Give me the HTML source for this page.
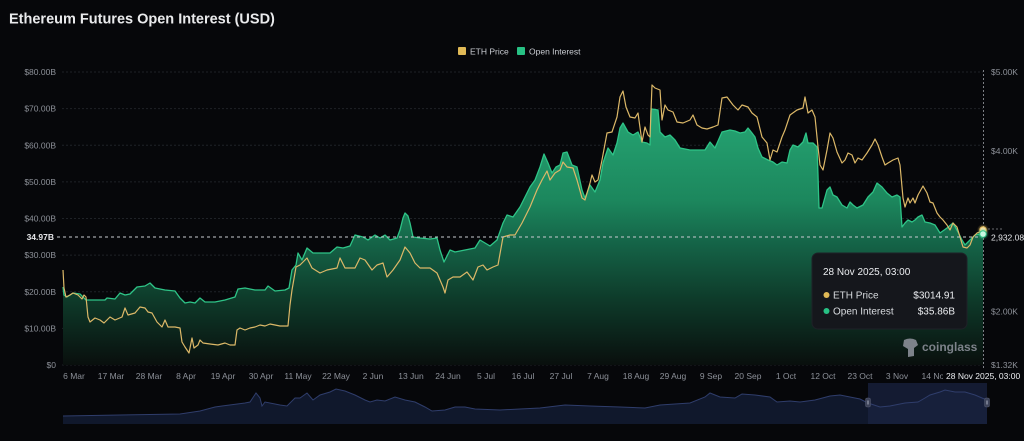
<!DOCTYPE html>
<html><head><meta charset="utf-8"><style>
html,body{margin:0;padding:0;background:#06070a;}
body{width:1024px;height:441px;overflow:hidden;font-family:"Liberation Sans",sans-serif;}
svg{display:block}
</style></head><body>
<svg width="1024" height="441" viewBox="0 0 1024 441" xmlns="http://www.w3.org/2000/svg" font-family="Liberation Sans, sans-serif">
<defs>
<linearGradient id="g" gradientUnits="userSpaceOnUse" x1="0" y1="100" x2="0" y2="365">
<stop offset="0" stop-color="#27a976"/>
<stop offset="0.38" stop-color="#1c875d"/>
<stop offset="0.53" stop-color="#156649"/>
<stop offset="0.75" stop-color="#0e3b2a"/>
<stop offset="1" stop-color="#090f0d"/>
</linearGradient>
<radialGradient id="gy"><stop offset="0" stop-color="#ffe3a0" stop-opacity="0.9"/><stop offset="1" stop-color="#e0b956" stop-opacity="0"/></radialGradient>
<radialGradient id="gg"><stop offset="0" stop-color="#9ff5cf" stop-opacity="0.9"/><stop offset="1" stop-color="#27c184" stop-opacity="0"/></radialGradient>
</defs>
<rect width="1024" height="441" fill="#06070a"/>
<text x="9" y="23.5" font-size="14.5" font-weight="bold" fill="#e9eaec">Ethereum Futures Open Interest (USD)</text>
<!-- legend -->
<rect x="458" y="47" width="8" height="8" rx="1" fill="#e0b956"/>
<text x="470" y="54.5" font-size="8.5" fill="#c9ccd2">ETH Price</text>
<rect x="517" y="47" width="8" height="8" rx="1" fill="#27c184"/>
<text x="529" y="54.5" font-size="8.5" fill="#c9ccd2">Open Interest</text>
<!-- grid -->
<g stroke="#1f2227" stroke-width="1" stroke-dasharray="2,2">
<line x1="62" y1="72" x2="983" y2="72"/>
<line x1="62" y1="108.6" x2="983" y2="108.6"/>
<line x1="62" y1="145.3" x2="983" y2="145.3"/>
<line x1="62" y1="181.9" x2="983" y2="181.9"/>
<line x1="62" y1="218.5" x2="983" y2="218.5"/>
<line x1="62" y1="255.1" x2="983" y2="255.1"/>
<line x1="62" y1="291.8" x2="983" y2="291.8"/>
<line x1="62" y1="328.4" x2="983" y2="328.4"/>
<line x1="62" y1="365" x2="983" y2="365"/>
</g>
<g font-size="8.5" fill="#8d9199" text-anchor="end">
<text x="56" y="75">$80.00B</text>
<text x="56" y="111.6">$70.00B</text>
<text x="56" y="148.3">$60.00B</text>
<text x="56" y="184.9">$50.00B</text>
<text x="56" y="221.5">$40.00B</text>
<text x="56" y="258.1">$30.00B</text>
<text x="56" y="294.8">$20.00B</text>
<text x="56" y="331.4">$10.00B</text>
<text x="56" y="368">$0</text>
</g>
<g font-size="8.5" fill="#8d9199">
<text x="991" y="75">$5.00K</text>
<text x="991" y="154">$4.00K</text>
<text x="991" y="314.5">$2.00K</text>
<text x="991" y="368">$1.32K</text>
</g>
<!-- OI area -->
<path fill="url(#g)" stroke="none" d="M63,287 L64,295 67,297 73,293 80,294 86,300 95,300 105,300 107,298 115,299 120,293 125,295 130,294 137,287 145,286 150,283 155,288 165,290 175,291 180,298 185,303 190,302 195,303 200,298 205,302 215,302 225,300 235,297 238,289 245,288 255,290 265,290 268,286 275,291 285,290 289,288 292,270 296,265 298,253 302,260 307,248 313,253 320,253 330,253 337,247 343,248 350,246 355,235 363,237 368,240 375,235 380,238 385,235 390,240 397,238 400,230 403,218 405,213 408,216 410,223 413,237 420,238 430,239 437,238 440,250 444,262 450,250 455,252 465,250 475,248 480,240 485,243 490,246 497,240 503,223 507,215 513,217 520,207 525,197 530,187 535,180 540,167 544,154 548,163 552,173 556,167 560,165 563,153 567,152 572,165 577,167 582,190 585,198 590,185 595,192 600,180 603,163 608,148 613,155 617,143 620,128 623,123 628,132 633,135 638,132 642,142 647,143 650,145 651,110 652,109 658,110 660,132 665,137 670,135 675,140 680,148 690,150 700,150 705,150 710,142 715,148 722,132 730,130 735,131 740,133 745,132 748,128 752,133 755,137 758,148 762,157 768,160 773,162 777,165 782,162 787,163 790,150 793,145 798,147 803,142 806,133 808,143 813,143 817,147 818,175 819,208 822,208 827,190 830,187 833,195 837,197 842,205 847,208 850,202 853,205 857,208 863,205 868,197 873,192 877,183 882,187 887,193 892,197 897,195 900,197 902,227 905,223 908,220 912,222 915,220 918,217 922,215 925,222 930,223 935,225 940,233 947,228 953,223 958,232 962,240 965,245 970,240 975,235 980,234 983,234 L983,365 L63,365 Z"/>
<polyline fill="none" stroke="#2ec487" stroke-width="1.3" stroke-linejoin="round" points="63,287 64,295 67,297 73,293 80,294 86,300 95,300 105,300 107,298 115,299 120,293 125,295 130,294 137,287 145,286 150,283 155,288 165,290 175,291 180,298 185,303 190,302 195,303 200,298 205,302 215,302 225,300 235,297 238,289 245,288 255,290 265,290 268,286 275,291 285,290 289,288 292,270 296,265 298,253 302,260 307,248 313,253 320,253 330,253 337,247 343,248 350,246 355,235 363,237 368,240 375,235 380,238 385,235 390,240 397,238 400,230 403,218 405,213 408,216 410,223 413,237 420,238 430,239 437,238 440,250 444,262 450,250 455,252 465,250 475,248 480,240 485,243 490,246 497,240 503,223 507,215 513,217 520,207 525,197 530,187 535,180 540,167 544,154 548,163 552,173 556,167 560,165 563,153 567,152 572,165 577,167 582,190 585,198 590,185 595,192 600,180 603,163 608,148 613,155 617,143 620,128 623,123 628,132 633,135 638,132 642,142 647,143 650,145 651,110 652,109 658,110 660,132 665,137 670,135 675,140 680,148 690,150 700,150 705,150 710,142 715,148 722,132 730,130 735,131 740,133 745,132 748,128 752,133 755,137 758,148 762,157 768,160 773,162 777,165 782,162 787,163 790,150 793,145 798,147 803,142 806,133 808,143 813,143 817,147 818,175 819,208 822,208 827,190 830,187 833,195 837,197 842,205 847,208 850,202 853,205 857,208 863,205 868,197 873,192 877,183 882,187 887,193 892,197 897,195 900,197 902,227 905,223 908,220 912,222 915,220 918,217 922,215 925,222 930,223 935,225 940,233 947,228 953,223 958,232 962,240 965,245 970,240 975,235 980,234 983,234"/>
<!-- price line -->
<polyline fill="none" stroke="#dcb868" stroke-width="1.2" stroke-linejoin="round" points="63,270 64,288 66,297 70,295 73,293 78,295 82,299 84,295 86,297 88,317 90,322 95,318 100,320 104,323 110,317 115,320 122,317 125,308 128,315 135,313 140,307 145,308 148,312 152,313 157,322 162,327 165,320 168,327 175,327 180,328 182,342 185,347 189,353 192,338 194,348 198,345 200,340 203,343 210,344 218,345 225,343 230,345 235,345 237,330 240,328 245,330 250,328 255,327 260,325 265,326 270,324 280,326 288,326 290,305 292,290 296,267 300,265 307,258 312,268 320,273 327,270 337,268 340,258 345,268 355,268 360,258 365,260 372,270 377,265 383,263 387,277 393,270 400,260 405,247 410,253 415,263 420,268 430,268 437,273 443,287 445,293 448,280 453,277 460,277 467,272 473,280 478,267 483,265 487,270 493,267 498,265 503,237 510,235 515,235 522,223 530,207 537,190 542,180 547,171 550,180 555,173 560,170 563,162 567,167 573,168 577,180 582,198 585,200 590,183 592,175 595,182 598,180 602,160 607,133 612,132 617,117 620,97 623,91 626,107 630,117 635,118 638,113 642,142 645,127 648,135 650,137 652,85 655,88 660,90 662,120 665,105 668,110 673,112 677,122 683,123 690,120 693,115 697,125 702,128 707,129 713,127 718,125 722,98 727,97 733,105 738,110 742,105 748,107 752,113 757,117 762,137 767,143 770,160 773,150 777,152 782,137 785,130 790,115 797,110 803,108 805,97 808,113 812,110 815,117 818,147 820,165 823,170 827,150 830,133 833,138 837,152 842,163 845,160 848,153 852,155 855,163 858,158 862,160 867,153 872,145 875,139 878,145 882,157 885,165 888,163 893,160 898,158 900,165 903,198 905,207 908,198 910,203 913,198 915,203 918,195 923,186 927,193 930,202 933,203 937,213 940,217 943,220 947,225 950,230 953,223 957,227 960,237 963,247 967,248 970,245 973,237 977,233 980,232 983,230"/>
<!-- crosshair -->
<line x1="57" y1="237" x2="986" y2="237" stroke="#c8cbd0" stroke-width="0.9" stroke-dasharray="3,3"/>
<line x1="983.5" y1="70" x2="983.5" y2="368" stroke="#8a8d93" stroke-width="0.9" stroke-dasharray="2,2"/>
<line x1="988" y1="229" x2="1002" y2="229" stroke="#8a8d93" stroke-width="0.8" stroke-dasharray="2,2"/>
<text x="54" y="240" font-size="8.5" font-weight="bold" fill="#e6e7ea" text-anchor="end">34.97B</text>
<text x="991" y="240.5" font-size="8.5" fill="#e6e7ea">2,932.08</text>
<!-- markers -->
<circle cx="983" cy="230" r="6" fill="url(#gy)"/>
<circle cx="983" cy="230" r="3.3" fill="#f6e2b0" stroke="#e0b956" stroke-width="1"/>
<circle cx="983" cy="234" r="6" fill="url(#gg)"/>
<circle cx="983" cy="234" r="3.3" fill="#c9f7e1" stroke="#2ec487" stroke-width="1"/>
<!-- x labels -->
<g font-size="8.5" fill="#8d9199" text-anchor="middle">
<text x="74" y="379">6 Mar</text>
<text x="111" y="379">17 Mar</text>
<text x="149" y="379">28 Mar</text>
<text x="186" y="379">8 Apr</text>
<text x="223" y="379">19 Apr</text>
<text x="261" y="379">30 Apr</text>
<text x="298" y="379">11 May</text>
<text x="336" y="379">22 May</text>
<text x="373" y="379">2 Jun</text>
<text x="411" y="379">13 Jun</text>
<text x="448" y="379">24 Jun</text>
<text x="486" y="379">5 Jul</text>
<text x="523" y="379">16 Jul</text>
<text x="561" y="379">27 Jul</text>
<text x="598" y="379">7 Aug</text>
<text x="636" y="379">18 Aug</text>
<text x="673" y="379">29 Aug</text>
<text x="711" y="379">9 Sep</text>
<text x="748" y="379">20 Sep</text>
<text x="786" y="379">1 Oct</text>
<text x="823" y="379">12 Oct</text>
<text x="860" y="379">23 Oct</text>
<text x="897" y="379">3 Nov</text>
<text x="935" y="379">14 Nov</text>
</g>
<rect x="943" y="368" width="81" height="14" fill="#06070a"/>
<text x="946" y="379" font-size="8.5" fill="#eceef1">28 Nov 2025, 03:00</text>
<!-- tooltip -->
<rect x="812" y="253" width="155" height="76" rx="6" fill="#15171c" stroke="#1e2127" stroke-width="1"/>
<text x="823" y="275" font-size="10" fill="#eceef1">28 Nov 2025, 03:00</text>
<circle cx="826.5" cy="295" r="3" fill="#e0b956"/>
<text x="833" y="298.5" font-size="10" fill="#d9dce0">ETH Price</text>
<text x="955" y="298.5" font-size="10" fill="#eceef1" text-anchor="end">$3014.91</text>
<circle cx="826.5" cy="311" r="3" fill="#27c184"/>
<text x="833" y="314.5" font-size="10" fill="#d9dce0">Open Interest</text>
<text x="955" y="314.5" font-size="10" fill="#eceef1" text-anchor="end">$35.86B</text>
<!-- watermark -->
<g fill="#7d828a">
<path d="M904,340 Q910,337 916,340 L918,345 L914,348 L914,356 L908,357 L908,349 L903,346 Z"/>
<text x="922" y="351" font-size="12" font-weight="bold">coinglass</text>
</g>
<!-- navigator -->
<path fill="#10182c" d="M63,416 L120,415 180,414 200,411 215,407 222,406 245,403 250,402 256,393 260,398 262,406 265,402 275,404 280,405 287,406 295,398 300,398 307,393 313,400 320,395 330,392 336,389 345,391 355,395 365,400 370,402 377,400 385,401 395,397 405,400 415,402 425,407 432,411 445,410 455,407 465,407 475,409 500,410 520,409 540,408 565,405 590,406 620,407 645,408 660,405 690,403 705,397 710,393 720,397 735,398 742,394 755,395 770,397 777,402 790,401 800,402 815,400 830,396 840,395 850,397 860,399 868,403 880,407 890,406 905,403 918,402 925,398 930,395 940,392 945,390 955,392 965,392 975,395 982,398 987,400 L987,424 L63,424 Z"/>
<rect x="868" y="383" width="119" height="41" fill="#1a2340" fill-opacity="0.75"/>
<polyline fill="none" stroke="#2f3d6b" stroke-width="1" points="63,416 120,415 180,414 200,411 215,407 222,406 245,403 250,402 256,393 260,398 262,406 265,402 275,404 280,405 287,406 295,398 300,398 307,393 313,400 320,395 330,392 336,389 345,391 355,395 365,400 370,402 377,400 385,401 395,397 405,400 415,402 425,407 432,411 445,410 455,407 465,407 475,409 500,410 520,409 540,408 565,405 590,406 620,407 645,408 660,405 690,403 705,397 710,393 720,397 735,398 742,394 755,395 770,397 777,402 790,401 800,402 815,400 830,396 840,395 850,397 860,399 868,403 880,407 890,406 905,403 918,402 925,398 930,395 940,392 945,390 955,392 965,392 975,395 982,398 987,400"/>
<g fill="#3c4258" stroke="#555b70" stroke-width="0.5">
<rect x="865.5" y="398" width="5" height="9" rx="1.5"/>
<rect x="984.5" y="398" width="5" height="9" rx="1.5"/>
</g>
<g stroke="#9aa0b0" stroke-width="0.6">
<line x1="867.3" y1="400.5" x2="867.3" y2="404.5"/><line x1="868.7" y1="400.5" x2="868.7" y2="404.5"/>
<line x1="986.3" y1="400.5" x2="986.3" y2="404.5"/><line x1="987.7" y1="400.5" x2="987.7" y2="404.5"/>
</g>
</svg>
</body></html>
